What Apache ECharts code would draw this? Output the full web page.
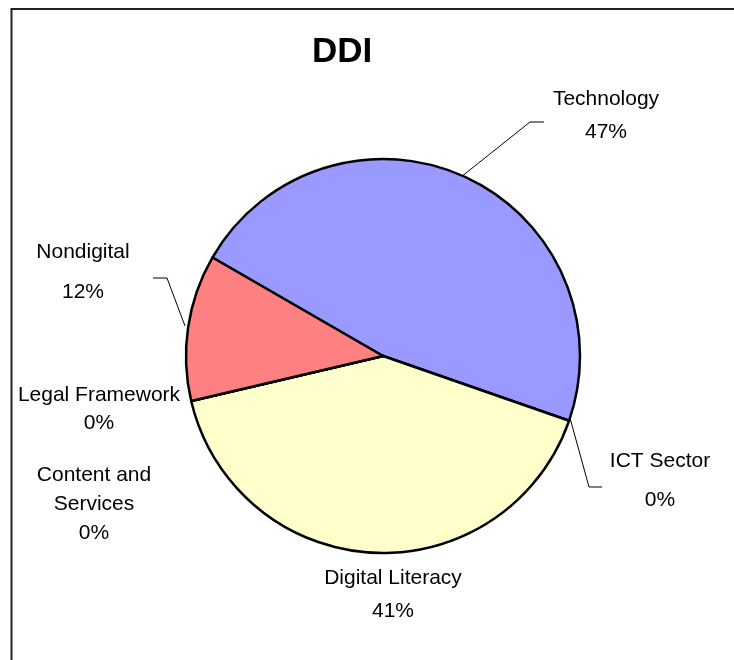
<!DOCTYPE html>
<html>
<head>
<meta charset="utf-8">
<style>html,body{margin:0;padding:0;background:#fff;}#chart{width:734px;height:660px;}</style>
<script src="https://cdn.jsdelivr.net/npm/echarts@6/dist/echarts.min.js"></script>
</head>
<body>
<div id="chart"></div>
<script>
// ---- data ----
const categories = ['Technology', 'ICT Sector', 'Digital Literacy', 'Content and Services', 'Legal Framework', 'Nondigital'];
const values = [47, 0, 41, 0, 0, 12];
const labelLines = ['Technology', 'ICT Sector', 'Digital Literacy', 'Content and\nServices', 'Legal Framework', 'Nondigital'];
const colors = ['#9999FF', '#993366', '#FFFFCC', '#CCFFFF', '#660066', '#FF8080'];

// ---- label layout (positions of text blocks, leader lines) ----
const labelPos = [
  {x: 606, y: 116, lh: 33, line: [[461, 177], [530, 122], [544, 122]]},
  {x: 660, y: 481, lh: 39, line: [[570, 418], [589, 487], [602, 487]]},
  {x: 393, y: 595, lh: 33, line: null},
  {x: 94, y: 504, lh: 29, line: null},
  {x: 99, y: 409, lh: 28, line: null},
  {x: 83, y: 272, lh: 40, line: [[185, 326], [167, 278], [153, 278]]}
];

const FONT = 'Arial, "Liberation Sans", sans-serif';

const chart = echarts.init(document.getElementById('chart'), null, {renderer: 'canvas'});

const data = categories.map((name, i) => ({
  name: name,
  value: values[i],
  itemStyle: {color: colors[i]},
  label: {lineHeight: labelPos[i].lh},
  labelLine: {show: !!labelPos[i].line}
}));

chart.setOption({
  backgroundColor: '#ffffff',
  animation: false,
  title: {
    text: 'DDI',
    left: 312,
    top: 35,
    padding: 0,
    textStyle: {fontFamily: FONT, fontSize: 35, fontWeight: 'bold', color: '#000'}
  },
  graphic: [{
    type: 'rect',
    shape: {x: 11.5, y: 9, width: 800, height: 700},
    style: {fill: 'none', stroke: '#222', lineWidth: 2},
    silent: true
  }],
  series: [{
    type: 'pie',
    center: [383, 356],
    radius: 197,
    startAngle: 150,
    clockwise: true,
    avoidLabelOverlap: false,
    minShowLabelAngle: 0,
    data: data,
    itemStyle: {borderColor: '#000', borderWidth: 2.5},
    emphasis: {disabled: true},
    label: {
      show: true,
      position: 'outside',
      fontFamily: FONT,
      fontSize: 21,
      color: '#000',
      align: 'center',
      formatter: function (p) {
        return labelLines[p.dataIndex] + '\n' + Math.round(p.percent) + '%';
      }
    },
    labelLine: {
      show: true,
      lineStyle: {color: '#000', width: 1},
      smooth: false
    },
    labelLayout: function (params) {
      const lp = labelPos[params.dataIndex];
      const out = {x: lp.x, y: lp.y, align: 'center', verticalAlign: 'middle'};
      if (lp.line) out.labelLinePoints = lp.line;
      return out;
    }
  }]
});
</script>
</body>
</html>
